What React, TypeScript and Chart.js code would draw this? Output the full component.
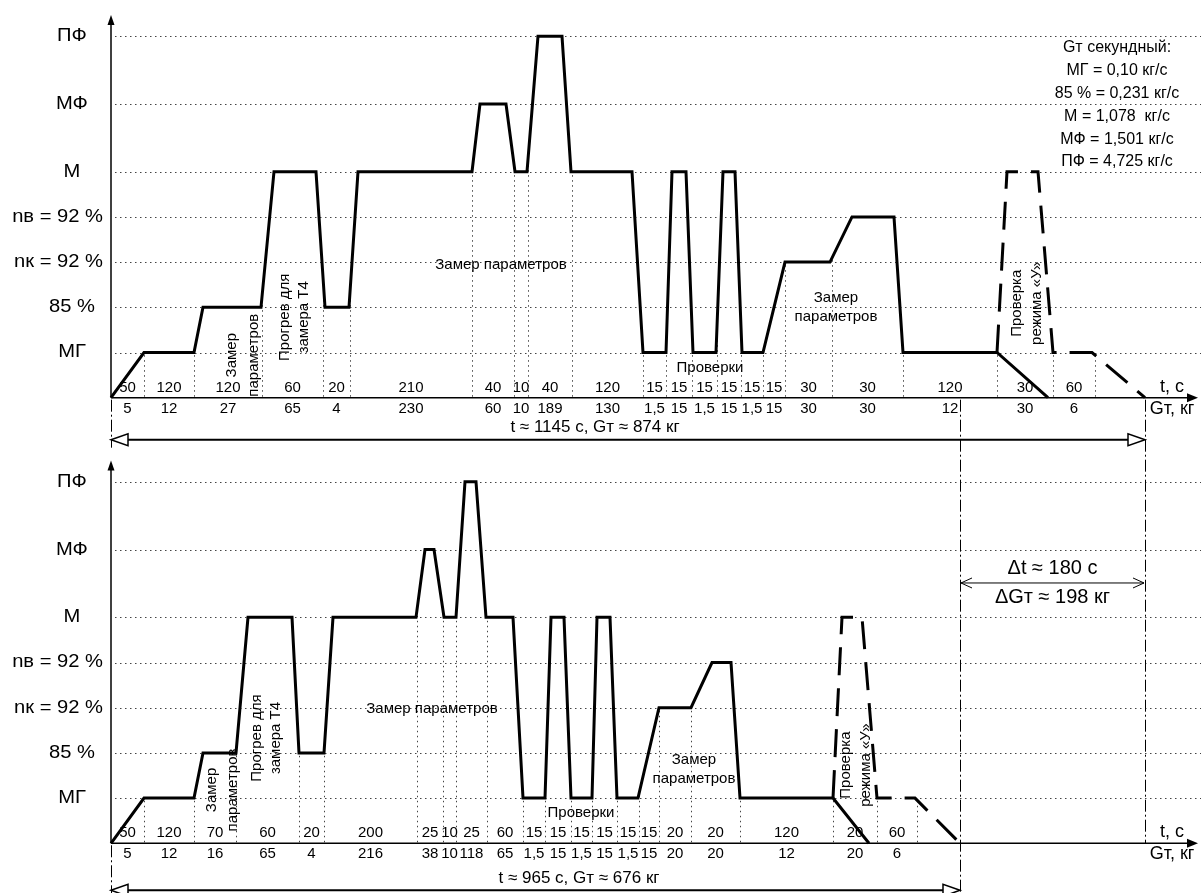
import React, { useEffect, useRef } from 'react';
import { Chart, registerables } from 'chart.js';

Chart.register(...registerables);

// ---------- engine modes (vertical schematic levels) ----------
const MODE_LABELS = ['', 'МГ', '85 %', 'nк = 92 %', 'nв = 92 %', 'М', 'МФ', 'ПФ'];
const MODE_LEVELS = [0, 1, 2, 3, 4, 5, 6.5, 8];

// ---------- upper programme ----------
const TOP_MARKS = [0, 33, 83, 151, 212, 239, 361, 403, 417, 461, 532, 555, 581, 606, 630, 652, 674, 721, 792, 886, 942, 984, 1034];
const TOP_TIME = ['50', '120', '120', '60', '20', '210', '40', '10', '40', '120', '15', '15', '15', '15', '15', '15', '30', '30', '120', '30', '60'];
const TOP_FUEL = ['5', '12', '27', '65', '4', '230', '60', '10', '189', '130', '1,5', '15', '1,5', '15', '1,5', '15', '30', '30', '12', '30', '6'];
const TOP_SOLID_X = [0, 33, 83, 92, 150, 163, 205, 214, 238, 247, 361, 369, 395, 404, 416, 427, 451, 460, 521, 532, 555, 561, 575, 582, 605, 612, 624, 631, 652, 674, 719, 741, 783, 792, 886, 937];
const TOP_SOLID_MODE = [0, 1, 1, 2, 2, 5, 5, 2, 2, 5, 5, 6, 6, 5, 5, 7, 7, 5, 5, 1, 1, 5, 5, 1, 1, 5, 5, 1, 1, 3, 3, 4, 4, 1, 1, 0];
const TOP_DASH_X = [886, 896, 927, 942, 981, 1034];
const TOP_DASH_MODE = [1, 5, 5, 1, 1, 0];

// ---------- lower programme ----------
const BOT_MARKS = [0, 33, 83, 125, 188, 213, 306, 332, 345, 376, 412, 434, 460, 481, 506, 528, 548, 580, 629, 722, 766, 806, 849];
const BOT_TIME = ['50', '120', '70', '60', '20', '200', '25', '10', '25', '60', '15', '15', '15', '15', '15', '15', '20', '20', '120', '20', '60'];
const BOT_FUEL = ['5', '12', '16', '65', '4', '216', '38', '10', '118', '65', '1,5', '15', '1,5', '15', '1,5', '15', '20', '20', '12', '20', '6'];
const BOT_SOLID_X = [0, 33, 83, 92, 125, 137, 181, 188, 213, 222, 305, 314, 323, 333, 345, 354, 365, 375, 402, 412, 434, 440, 453, 460, 481, 486, 499, 506, 527, 548, 580, 601, 620, 629, 722, 758];
const BOT_SOLID_MODE = [0, 1, 1, 2, 2, 5, 5, 2, 2, 5, 5, 6, 6, 5, 5, 7, 7, 5, 5, 1, 1, 5, 5, 1, 1, 5, 5, 1, 1, 3, 3, 4, 4, 1, 1, 0];
const BOT_DASH_X = [722, 731, 751, 766, 804, 849];
const BOT_DASH_MODE = [1, 5, 5, 1, 1, 0];

// ---------- texts ----------
const FUEL_RATE_LINES = ['Gт секундный:', 'МГ = 0,10 кг/с', '85 % = 0,231 кг/с', 'М = 1,078  кг/с', 'МФ = 1,501 кг/с', 'ПФ = 4,725 кг/с'];
const TOP_TOTAL = 't ≈ 1145 с, Gт ≈ 874 кг';
const BOT_TOTAL = 't ≈ 965 с, Gт ≈ 676 кг';
const DELTA_T = 'Δt ≈ 180 с';
const DELTA_G = 'ΔGт ≈ 198 кг';
const AXIS_T = 't, с';
const AXIS_G = 'Gт, кг';

type Note = { lines: string[]; x: number; level: number; rotate: boolean; gap: number };

const TOP_NOTES: Note[] = [
  { lines: ['Замер параметров'], x: 390, level: 2.95, rotate: false, gap: 19 },
  { lines: ['Проверки'], x: 599, level: 0.66, rotate: false, gap: 19 },
  { lines: ['Замер', 'параметров'], x: 725, level: 2.0, rotate: false, gap: 19 },
  { lines: ['Замер', 'параметров'], x: 132, level: 0.94, rotate: true, gap: 22 },
  { lines: ['Прогрев для', 'замера Т4'], x: 183, level: 1.78, rotate: true, gap: 19 },
  { lines: ['Проверка', 'режима «У»'], x: 916, level: 2.09, rotate: true, gap: 20 },
];
const BOT_NOTES: Note[] = [
  { lines: ['Замер параметров'], x: 321, level: 2.97, rotate: false, gap: 19 },
  { lines: ['Проверки'], x: 470, level: 0.67, rotate: false, gap: 19 },
  { lines: ['Замер', 'параметров'], x: 583, level: 1.63, rotate: false, gap: 19 },
  { lines: ['Замер', 'параметров'], x: 111, level: 1.18, rotate: true, gap: 21 },
  { lines: ['Прогрев для', 'замера Т4'], x: 155, level: 2.33, rotate: true, gap: 19 },
  { lines: ['Проверка', 'режима «У»'], x: 745, level: 1.73, rotate: true, gap: 20 },
];

type Panel = {
  yId: string;
  marks: number[]; time: string[]; fuel: string[];
  solidX: number[]; solidMode: number[]; dashX: number[]; dashMode: number[];
  notes: Note[]; total: string; totalX: number; totalDrop: number;
};

const PANELS: Panel[] = [
  { yId: 'yTop', marks: TOP_MARKS, time: TOP_TIME, fuel: TOP_FUEL, solidX: TOP_SOLID_X, solidMode: TOP_SOLID_MODE, dashX: TOP_DASH_X, dashMode: TOP_DASH_MODE, notes: TOP_NOTES, total: TOP_TOTAL, totalX: 484, totalDrop: 42 },
  { yId: 'yBot', marks: BOT_MARKS, time: BOT_TIME, fuel: BOT_FUEL, solidX: BOT_SOLID_X, solidMode: BOT_SOLID_MODE, dashX: BOT_DASH_X, dashMode: BOT_DASH_MODE, notes: BOT_NOTES, total: BOT_TOTAL, totalX: 468, totalDrop: 47 },
];

const SANS = '"Liberation Sans", Arial, sans-serif';
const AXIS_TOP_LEVEL = 8.47;
const AXIS_RIGHT = 1087;

function interp(xs: number[], modes: number[], x: number): number | null {
  for (let i = 0; i < xs.length - 1; i++) {
    if (x >= xs[i] && x <= xs[i + 1]) {
      const a = MODE_LEVELS[modes[i]];
      const b = MODE_LEVELS[modes[i + 1]];
      if (xs[i + 1] === xs[i]) return Math.max(a, b);
      return a + ((b - a) * (x - xs[i])) / (xs[i + 1] - xs[i]);
    }
  }
  return null;
}

function txt(ctx: CanvasRenderingContext2D, s: string, x: number, y: number, font: string, sx = 1, align: CanvasTextAlign = 'center') {
  ctx.save();
  ctx.font = font;
  ctx.fillStyle = '#000';
  ctx.textAlign = align;
  ctx.textBaseline = 'middle';
  ctx.translate(x, y);
  ctx.scale(sx, 1);
  ctx.fillText(s, 0, 0);
  ctx.restore();
}

function openTri(ctx: CanvasRenderingContext2D, tipX: number, y: number, dir: number) {
  ctx.save();
  ctx.setLineDash([]);
  ctx.lineWidth = 1.5;
  ctx.strokeStyle = '#000';
  ctx.fillStyle = '#fff';
  ctx.beginPath();
  ctx.moveTo(tipX, y);
  ctx.lineTo(tipX - dir * 17, y - 6);
  ctx.lineTo(tipX - dir * 17, y + 6);
  ctx.closePath();
  ctx.fill();
  ctx.stroke();
  ctx.restore();
}

function vline(ctx: CanvasRenderingContext2D, x: number, y1: number, y2: number, dash: number[]) {
  ctx.save();
  ctx.strokeStyle = '#000';
  ctx.lineWidth = 1;
  ctx.setLineDash(dash);
  ctx.beginPath();
  ctx.moveTo(Math.round(x) + 0.5, y1);
  ctx.lineTo(Math.round(x) + 0.5, y2);
  ctx.stroke();
  ctx.restore();
}

const DASH_DOT = [12, 3, 2, 3];
const DOTS = [1.5, 3.5];

const diagramPlugin = {
  id: 'diagram',
  beforeDatasetsDraw(chart: any) {
    const ctx: CanvasRenderingContext2D = chart.ctx;
    const xs = chart.scales.x;
    const X = (v: number) => xs.getPixelForValue(v);
    const right = chart.chartArea.right;
    PANELS.forEach((p) => {
      const ys = chart.scales[p.yId];
      const Y = (v: number) => ys.getPixelForValue(v);
      const y0 = Y(0);
      ctx.save();
      ctx.strokeStyle = '#444';
      ctx.lineWidth = 1;
      ctx.setLineDash(DOTS);
      for (let i = 1; i < MODE_LEVELS.length; i++) {
        const y = Math.round(Y(MODE_LEVELS[i])) + 0.5;
        ctx.beginPath();
        ctx.moveTo(X(0) + 4, y);
        ctx.lineTo(right, y);
        ctx.stroke();
      }
      for (let i = 1; i < p.marks.length - 1; i++) {
        const m = p.marks[i];
        const top = Math.max(interp(p.solidX, p.solidMode, m) ?? 0, interp(p.dashX, p.dashMode, m) ?? 0);
        const x = Math.round(X(m)) + 0.5;
        ctx.beginPath();
        ctx.moveTo(x, y0 - 1);
        ctx.lineTo(x, Y(top));
        ctx.stroke();
      }
      ctx.restore();

      // axes
      ctx.save();
      ctx.strokeStyle = '#000';
      ctx.fillStyle = '#000';
      ctx.lineWidth = 1.5;
      const ax = X(0);
      const tipY = Y(AXIS_TOP_LEVEL);
      ctx.beginPath();
      ctx.moveTo(ax, y0);
      ctx.lineTo(ax, tipY + 6);
      ctx.stroke();
      ctx.beginPath();
      ctx.moveTo(ax, tipY);
      ctx.lineTo(ax - 3.5, tipY + 10);
      ctx.lineTo(ax + 3.5, tipY + 10);
      ctx.closePath();
      ctx.fill();
      const tipX = X(AXIS_RIGHT);
      ctx.beginPath();
      ctx.moveTo(ax, y0);
      ctx.lineTo(tipX - 6, y0);
      ctx.stroke();
      ctx.beginPath();
      ctx.moveTo(tipX, y0);
      ctx.lineTo(tipX - 11, y0 - 4.5);
      ctx.lineTo(tipX - 11, y0 + 4.5);
      ctx.closePath();
      ctx.fill();
      ctx.restore();
      vline(ctx, ax - 0.5, y0 + 2, y0 + 50, DASH_DOT);
    });

    // end-of-programme dash-dot lines and totals
    const yT = chart.scales.yTop;
    const yB = chart.scales.yBot;
    const topEnd = X(TOP_MARKS[TOP_MARKS.length - 1]);
    const botEnd = X(BOT_MARKS[BOT_MARKS.length - 1]);
    const topY0 = yT.getPixelForValue(0);
    const botY0 = yB.getPixelForValue(0);
    vline(ctx, topEnd, topY0 + 2, botY0, DASH_DOT);
    vline(ctx, botEnd, topY0 + 2, chart.height, DASH_DOT);
  },
  afterDatasetsDraw(chart: any) {
    const ctx: CanvasRenderingContext2D = chart.ctx;
    const xs = chart.scales.x;
    const X = (v: number) => xs.getPixelForValue(v);
    const small = `15px ${SANS}`;
    PANELS.forEach((p) => {
      const ys = chart.scales[p.yId];
      const Y = (v: number) => ys.getPixelForValue(v);
      const y0 = Y(0);
      // level labels
      ctx.save();
      ctx.font = `18px ${SANS}`;
      for (let i = 1; i < MODE_LABELS.length; i++) {
        const w = ctx.measureText(MODE_LABELS[i]).width * 1.12;
        const cx = Math.min(72, 103 - w / 2);
        txt(ctx, MODE_LABELS[i], cx, Y(MODE_LEVELS[i]), `18px ${SANS}`, 1.12);
      }
      ctx.restore();
      // segment labels
      for (let i = 0; i < p.time.length; i++) {
        const cx = X((p.marks[i] + p.marks[i + 1]) / 2);
        txt(ctx, p.time[i], cx, y0 - 10, small);
        txt(ctx, p.fuel[i], cx, y0 + 11, small);
      }
      txt(ctx, AXIS_T, X(1061), y0 - 11, `18px ${SANS}`);
      txt(ctx, AXIS_G, X(1061), y0 + 11, `18px ${SANS}`);
      // notes
      p.notes.forEach((n) => {
        const cx = X(n.x);
        const cy = Y(n.level);
        ctx.save();
        ctx.translate(cx, cy);
        if (n.rotate) ctx.rotate(-Math.PI / 2);
        n.lines.forEach((s, k) => {
          const off = (k - (n.lines.length - 1) / 2) * n.gap;
          if (n.rotate) txt(ctx, s, 0, off, small);
          else txt(ctx, s, 0, off, small);
        });
        ctx.restore();
      });
      // total arrow
      const endX = X(p.marks[p.marks.length - 1]);
      const ay = y0 + p.totalDrop;
      ctx.save();
      ctx.strokeStyle = '#000';
      ctx.lineWidth = 2;
      ctx.beginPath();
      ctx.moveTo(X(0) + 17, ay);
      ctx.lineTo(endX - 17, ay);
      ctx.stroke();
      ctx.restore();
      openTri(ctx, X(0), ay, -1);
      openTri(ctx, endX, ay, 1);
      txt(ctx, p.total, X(p.totalX), ay - 12, `17px ${SANS}`);
    });

    // fuel-rate table
    const yT = chart.scales.yTop;
    FUEL_RATE_LINES.forEach((s, k) => {
      txt(ctx, s, X(1006), yT.getPixelForValue(7.74) + k * 22.8, `16px ${SANS}`);
    });

    // delta arrow
    const yB = chart.scales.yBot;
    const dy = yB.getPixelForValue(5.76);
    const x1 = X(BOT_MARKS[BOT_MARKS.length - 1]);
    const x2 = X(TOP_MARKS[TOP_MARKS.length - 1]);
    ctx.save();
    ctx.strokeStyle = '#000';
    ctx.lineWidth = 1;
    ctx.beginPath();
    ctx.moveTo(x1 + 1, dy);
    ctx.lineTo(x2 - 1, dy);
    ctx.moveTo(x1 + 12, dy - 5);
    ctx.lineTo(x1 + 1, dy);
    ctx.lineTo(x1 + 12, dy + 5);
    ctx.moveTo(x2 - 12, dy - 5);
    ctx.lineTo(x2 - 1, dy);
    ctx.lineTo(x2 - 12, dy + 5);
    ctx.stroke();
    ctx.restore();
    txt(ctx, DELTA_T, (x1 + x2) / 2, dy - 14, `20px ${SANS}`);
    txt(ctx, DELTA_G, (x1 + x2) / 2, dy + 15, `20px ${SANS}`);
  },
};

function toPoints(xs: number[], modes: number[]) {
  return xs.map((x, i) => ({ x, y: MODE_LEVELS[modes[i]] }));
}

export default function App() {
  const ref = useRef<HTMLCanvasElement | null>(null);
  useEffect(() => {
    if (!ref.current) return;
    const lineBase = {
      borderColor: '#000',
      borderWidth: 3,
      pointRadius: 0,
      tension: 0,
      fill: false,
      borderJoinStyle: 'miter' as const,
      borderCapStyle: 'butt' as const,
      clip: false as any,
    };
    const chart = new Chart(ref.current, {
      type: 'line',
      data: {
        datasets: [
          { ...lineBase, label: 'top', data: toPoints(TOP_SOLID_X, TOP_SOLID_MODE), yAxisID: 'yTop' },
          { ...lineBase, label: 'topU', data: toPoints(TOP_DASH_X, TOP_DASH_MODE), yAxisID: 'yTop', borderDash: [28, 13] },
          { ...lineBase, label: 'bot', data: toPoints(BOT_SOLID_X, BOT_SOLID_MODE), yAxisID: 'yBot' },
          { ...lineBase, label: 'botU', data: toPoints(BOT_DASH_X, BOT_DASH_MODE), yAxisID: 'yBot', borderDash: [28, 13] },
        ],
      },
      options: {
        responsive: false,
        animation: false,
        devicePixelRatio: 1,
        events: [],
        layout: { padding: 0 },
        plugins: { legend: { display: false }, tooltip: { enabled: false }, title: { display: false } },
        scales: {
          x: { type: 'linear', min: -111, max: 1090, display: false },
          yTop: { type: 'linear', position: 'left', min: -10.96, max: 8.8, display: false },
          yBot: { type: 'linear', position: 'left', min: -1.1, max: 18.66, display: false },
        },
      },
      plugins: [diagramPlugin],
    } as any);
    return () => chart.destroy();
  }, []);
  return (
    <div style={{ position: 'fixed', left: 0, top: 0, width: 1201, height: 893, background: '#fff' }}>
      <canvas ref={ref} width={1201} height={893} style={{ display: 'block', width: 1201, height: 893 }} />
    </div>
  );
}
